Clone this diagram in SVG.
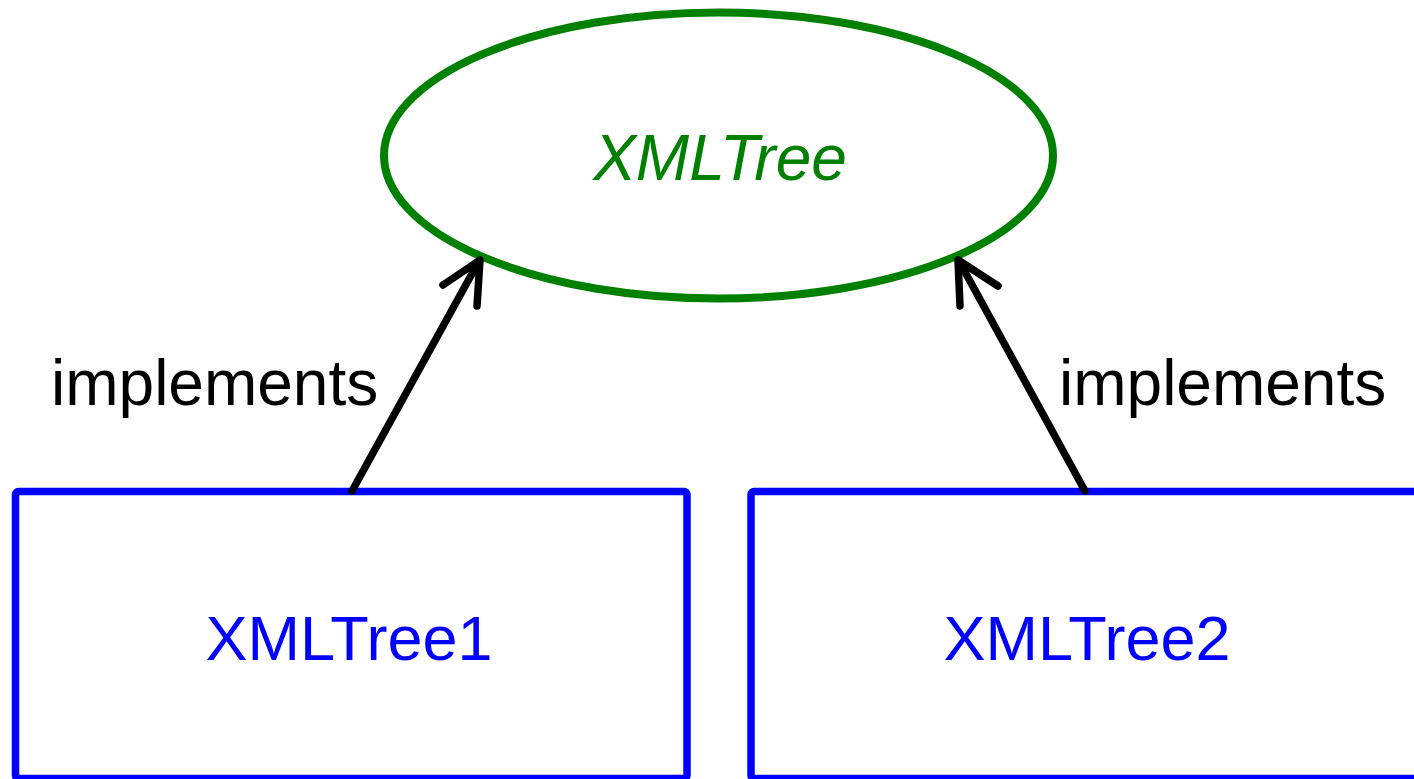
<svg xmlns="http://www.w3.org/2000/svg" width="1414" height="779" viewBox="0 0 1414 779">
  <style>
    .iface { fill: none; stroke: #008000; stroke-width: 8; }
    .iface-label { font-family: "Liberation Sans", Arial, sans-serif; font-size: 64px; font-style: italic; fill: #008000; text-anchor: middle; }
    .impl { fill: none; stroke: #0000ff; stroke-width: 7.5; stroke-linejoin: round; }
    .impl-label { font-family: "Liberation Sans", Arial, sans-serif; font-size: 63px; fill: #0000ff; text-anchor: middle; }
    .edge { fill: none; stroke: #000000; stroke-width: 7.5; stroke-linecap: round; stroke-linejoin: round; }
    .edge-label { font-family: "Liberation Sans", Arial, sans-serif; font-size: 64px; fill: #000000; }
  </style>
  <rect width="1414" height="779" fill="#ffffff"/>

  <g id="node-xmltree">
    <ellipse class="iface" cx="718.5" cy="155.5" rx="334.5" ry="143"/>
    <text class="iface-label" x="720" y="180">XMLTree</text>
  </g>

  <g id="node-xmltree1">
    <rect class="impl" x="15.5" y="491.5" width="671.5" height="287" rx="3"/>
    <text class="impl-label" x="349" y="660">XMLTree1</text>
  </g>

  <g id="node-xmltree2">
    <rect class="impl" x="751" y="491.5" width="671.5" height="287" rx="3"/>
    <text class="impl-label" x="1087" y="660">XMLTree2</text>
  </g>

  <g id="connectors">
    <g id="edge-1">
      <line class="edge" x1="352" y1="491" x2="479" y2="261"/>
      <polyline class="edge" points="443,285 480,260 477,306"/>
      <text class="edge-label" x="51" y="405">implements</text>
    </g>
    <g id="edge-2">
      <line class="edge" x1="1085" y1="491" x2="959" y2="261"/>
      <polyline class="edge" points="998,286 958,260 960,306"/>
      <text class="edge-label" x="1059" y="405">implements</text>
    </g>
  </g>
</svg>
